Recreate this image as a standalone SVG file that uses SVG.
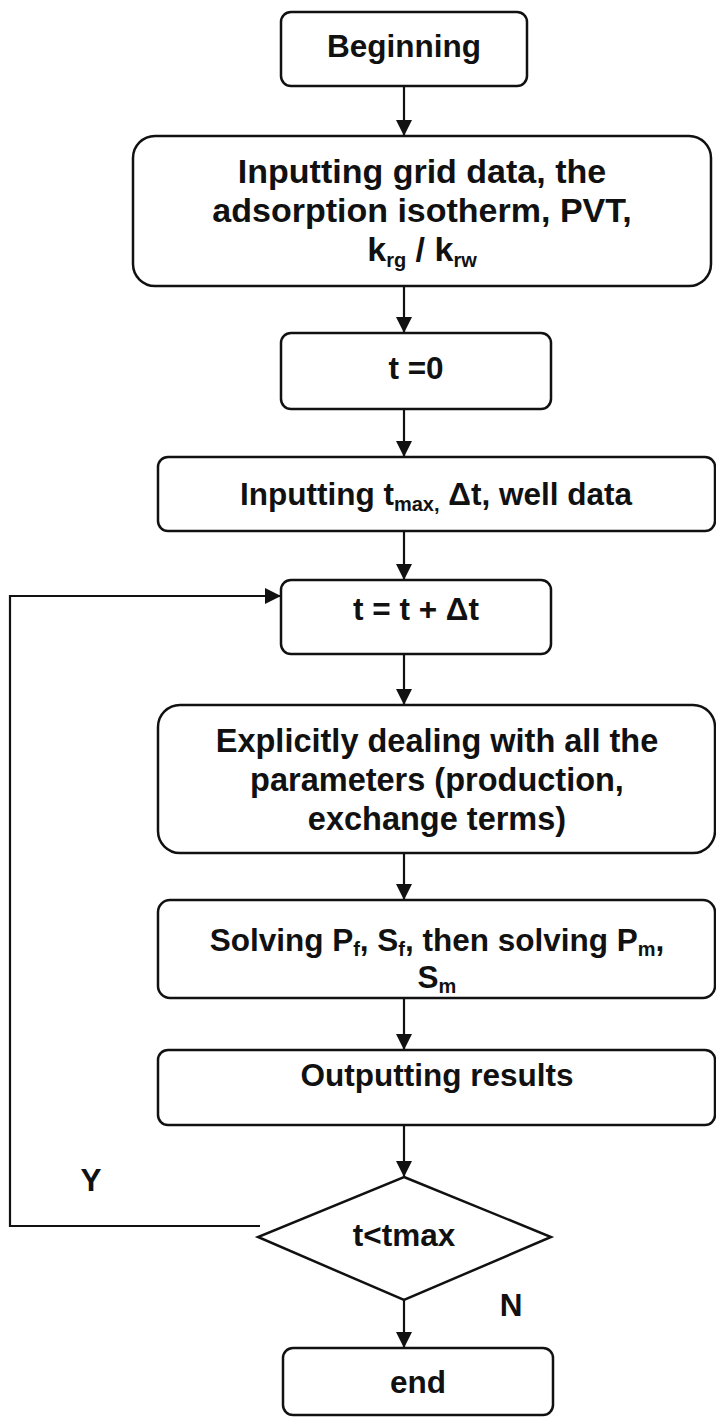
<svg xmlns="http://www.w3.org/2000/svg" width="716" height="1420" viewBox="0 0 716 1420">
  <style>
    .box{fill:#fff;stroke:#111;stroke-width:2.5}
    .t{font-family:"Liberation Sans",Arial,sans-serif;font-weight:bold;font-size:31.5px;fill:#111;text-anchor:middle}
    .big{font-size:34px}
    .s{font-size:20px}
    .c{fill:none;stroke:#111;stroke-width:2.2}
  </style>
  <defs>
    <marker id="arrow" markerUnits="userSpaceOnUse" markerWidth="16" markerHeight="16" viewBox="0 0 16 16" refX="16" refY="8" orient="auto">
      <path d="M0,0 L16,8 L0,16 z" fill="#111"/>
    </marker>
  </defs>
  <rect width="716" height="1420" fill="#fff"/>

  <!-- connectors -->
  <g id="connectors" class="c">
    <line x1="404" y1="86" x2="404" y2="136" marker-end="url(#arrow)"/>
    <line x1="404" y1="286" x2="404" y2="333" marker-end="url(#arrow)"/>
    <line x1="404" y1="409" x2="404" y2="457" marker-end="url(#arrow)"/>
    <line x1="404" y1="531" x2="404" y2="580" marker-end="url(#arrow)"/>
    <line x1="404" y1="654" x2="404" y2="705" marker-end="url(#arrow)"/>
    <line x1="404" y1="853" x2="404" y2="900" marker-end="url(#arrow)"/>
    <line x1="404" y1="998" x2="404" y2="1050" marker-end="url(#arrow)"/>
    <line x1="404" y1="1125" x2="404" y2="1177" marker-end="url(#arrow)"/>
    <line x1="404" y1="1300" x2="404" y2="1348" marker-end="url(#arrow)"/>
    <polyline points="260,1226 10,1226 10,596 281,596" marker-end="url(#arrow)"/>
  </g>

  <g id="begin">
    <rect class="box" x="281" y="12" width="246" height="74" rx="10"/>
    <text class="t" x="404" y="57">Beginning</text>
  </g>

  <g id="input-grid">
    <rect class="box" x="133" y="136" width="578" height="150" rx="22"/>
    <text class="t big" x="422" y="183">Inputting grid data, the</text>
    <text class="t big" x="422" y="222">adsorption isotherm, PVT,</text>
    <text class="t big" x="422" y="261">k<tspan class="s" dy="6">rg</tspan><tspan dy="-6"> / k</tspan><tspan class="s" dy="6">rw</tspan></text>
  </g>

  <g id="t-zero">
    <rect class="box" x="281" y="333" width="270" height="76" rx="10"/>
    <text class="t" x="416" y="379">t =0</text>
  </g>

  <g id="input-well">
    <rect class="box" x="158" y="457" width="557" height="74" rx="10"/>
    <text class="t" x="436" y="505">Inputting t<tspan class="s" dy="6">max,</tspan><tspan dy="-6"> Δt, well data</tspan></text>
  </g>

  <g id="t-step">
    <rect class="box" x="281" y="580" width="270" height="74" rx="10"/>
    <text class="t" x="416" y="620">t = t + Δt</text>
  </g>

  <g id="explicit">
    <rect class="box" x="158" y="705" width="557" height="148" rx="22"/>
    <text class="t" x="437" y="752" style="font-size:32.5px">Explicitly dealing with all the</text>
    <text class="t" x="437" y="791" style="font-size:32.5px">parameters (production,</text>
    <text class="t" x="437" y="830" style="font-size:32.5px">exchange terms)</text>
  </g>

  <g id="solve">
    <rect class="box" x="158" y="900" width="557" height="98" rx="12"/>
    <text class="t" x="437" y="951">Solving P<tspan class="s" dy="5">f</tspan><tspan dy="-5">, S</tspan><tspan class="s" dy="5">f</tspan><tspan dy="-5">, then solving P</tspan><tspan class="s" dy="5">m</tspan><tspan dy="-5">,</tspan></text>
    <text class="t" x="437" y="988">S<tspan class="s" dy="5">m</tspan></text>
  </g>

  <g id="output">
    <rect class="box" x="158" y="1050" width="557" height="75" rx="10"/>
    <text class="t" x="437" y="1086">Outputting results</text>
  </g>

  <g id="decision">
    <polygon class="box" points="404,1177 551,1237 404,1300 258,1237"/>
    <text class="t" x="404" y="1246">t&lt;tmax</text>
  </g>

  <g id="labels">
    <text class="t" x="91" y="1191">Y</text>
    <text class="t" x="511" y="1316">N</text>
  </g>

  <g id="end">
    <rect class="box" x="283" y="1348" width="270" height="67" rx="10"/>
    <text class="t" x="418" y="1393">end</text>
  </g>
</svg>
